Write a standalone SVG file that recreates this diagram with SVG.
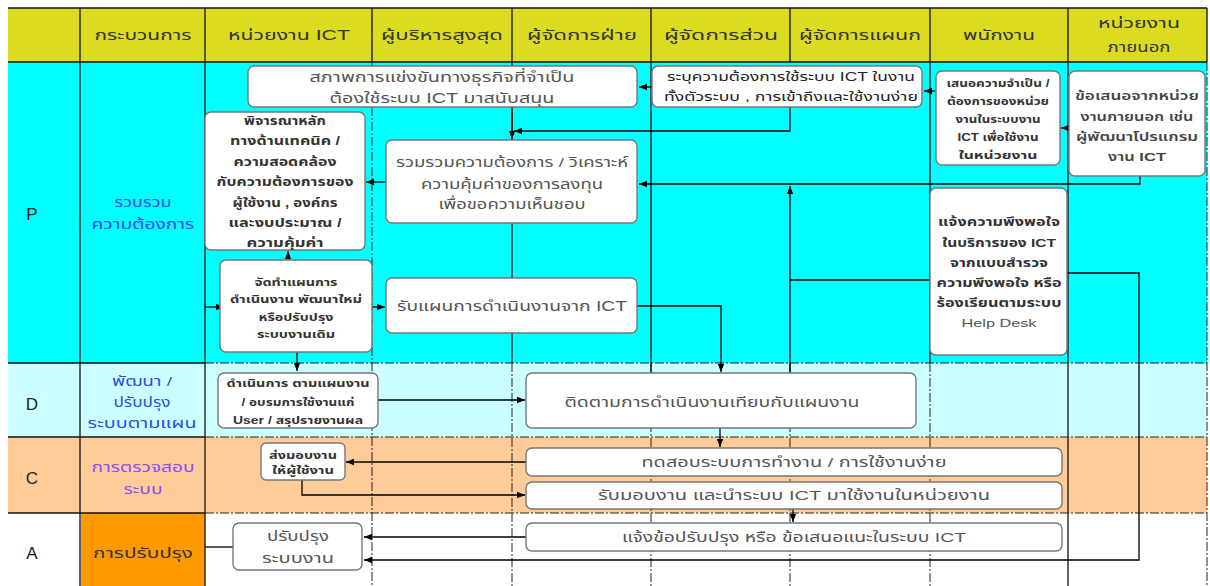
<svg xmlns="http://www.w3.org/2000/svg" width="1210" height="586" viewBox="0 0 1210 586">
<defs>
<marker id="ah" viewBox="0 0 10 10" refX="10" refY="5" markerWidth="8" markerHeight="8" markerUnits="userSpaceOnUse" orient="auto">
<path d="M0,1 L10,5 L0,9 z" fill="#000"/>
</marker>
<style>
text{font-family:"Liberation Sans","Noto Sans Thai","DejaVu Sans",sans-serif;text-anchor:middle;dominant-baseline:central}
.hd{font-size:14px;fill:#333}
.box{fill:#fff;stroke:#777;stroke-width:1.4}
.t{font-size:13.5px;fill:#555}
.b{font-size:11px;fill:#333;font-weight:bold}
.dd{stroke:#222;stroke-width:1;stroke-dasharray:9 2 2 2;fill:none}
.sl{stroke:#111;stroke-width:1.3;fill:none}
.c{stroke:#000;stroke-width:1.3;fill:none}
.ca{stroke:#000;stroke-width:1.3;fill:none;marker-end:url(#ah)}
.lt{font-size:17px;fill:#222}
.pl{font-size:13.5px;fill:#2a4cf0}
</style>
</defs>
<g id="lanes">
<rect x="8" y="8" width="1199" height="54" fill="#dbdb1f"/>
<rect x="8" y="62" width="1199" height="301" fill="#00ffff"/>
<rect x="8" y="363" width="1199" height="74" fill="#ccffff"/>
<rect x="8" y="437" width="1199" height="76" fill="#ffcc99"/>
<rect x="8" y="513" width="1199" height="73" fill="#ffffff"/>
<rect x="81" y="513" width="124" height="73" fill="#ff9900"/>
<line class="sl" x1="8" y1="8" x2="1207" y2="8"/>
<line class="sl" x1="8" y1="62" x2="1207" y2="62"/>
<line class="sl" x1="1207" y1="8" x2="1207" y2="62"/>
<line class="sl" x1="80" y1="8" x2="80" y2="586"/>
<line class="sl" x1="205" y1="8" x2="205" y2="586"/>
<line class="sl" x1="372" y1="8" x2="372" y2="62"/>
<line class="sl" x1="512" y1="8" x2="512" y2="62"/>
<line class="sl" x1="651" y1="8" x2="651" y2="62"/>
<line class="sl" x1="790" y1="8" x2="790" y2="62"/>
<line class="sl" x1="930" y1="8" x2="930" y2="62"/>
<line class="sl" x1="1068" y1="8" x2="1068" y2="62"/>
<line class="sl" x1="8" y1="363" x2="205" y2="363"/>
<line class="sl" x1="8" y1="437" x2="205" y2="437"/>
<line class="sl" x1="8" y1="513" x2="205" y2="513"/>
<line class="dd" x1="205" y1="363" x2="1207" y2="363"/>
<line class="dd" x1="205" y1="437" x2="1207" y2="437"/>
<line class="dd" x1="205" y1="513" x2="1207" y2="513"/>
<line class="dd" x1="372" y1="62" x2="372" y2="586"/>
<line class="dd" x1="512" y1="363" x2="512" y2="586"/>
<line class="dd" x1="651" y1="363" x2="651" y2="586"/>
<line class="dd" x1="790" y1="363" x2="790" y2="586"/>
<line class="dd" x1="930" y1="363" x2="930" y2="586"/>
<line class="dd" x1="1207" y1="62" x2="1207" y2="586"/>
<line class="sl" x1="512" y1="62" x2="512" y2="363"/>
<line class="sl" x1="651" y1="62" x2="651" y2="373"/>
<line class="sl" x1="930" y1="62" x2="930" y2="363"/>
<line class="sl" x1="1068" y1="62" x2="1068" y2="586"/>
</g>
<g id="header">
<text class="hd" x="143" y="35" textLength="97" lengthAdjust="spacingAndGlyphs">กระบวนการ</text>
<text class="hd" x="289" y="35" textLength="122" lengthAdjust="spacingAndGlyphs">หน่วยงาน ICT</text>
<text class="hd" x="442" y="35" textLength="122" lengthAdjust="spacingAndGlyphs">ผู้บริหารสูงสุด</text>
<text class="hd" x="582" y="35" textLength="110" lengthAdjust="spacingAndGlyphs">ผู้จัดการฝ่าย</text>
<text class="hd" x="721" y="35" textLength="114" lengthAdjust="spacingAndGlyphs">ผู้จัดการส่วน</text>
<text class="hd" x="860" y="35" textLength="122" lengthAdjust="spacingAndGlyphs">ผู้จัดการแผนก</text>
<text class="hd" x="999" y="35" textLength="72" lengthAdjust="spacingAndGlyphs">พนักงาน</text>
<text class="hd" x="1139" y="23" textLength="82" lengthAdjust="spacingAndGlyphs">หน่วยงาน</text>
<text class="hd" x="1139" y="47" textLength="63" lengthAdjust="spacingAndGlyphs">ภายนอก</text>
</g>
<g id="stages">
<text class="lt" x="32" y="214">P</text>
<text class="lt" x="32" y="404">D</text>
<text class="lt" x="32" y="478">C</text>
<text class="lt" x="32" y="553">A</text>
<text class="pl" x="143" y="202" textLength="57" lengthAdjust="spacingAndGlyphs">รวบรวม</text>
<text class="pl" x="143" y="224" textLength="103" lengthAdjust="spacingAndGlyphs">ความต้องการ</text>
<text class="pl" x="142" y="381" textLength="60" lengthAdjust="spacingAndGlyphs">พัฒนา /</text>
<text class="pl" x="142" y="402" textLength="57" lengthAdjust="spacingAndGlyphs">ปรับปรุง</text>
<text class="pl" x="142" y="423" textLength="109" lengthAdjust="spacingAndGlyphs">ระบบตามแผน</text>
<text class="pl" x="143" y="467" style="fill:#8a4cff" textLength="103" lengthAdjust="spacingAndGlyphs">การตรวจสอบ</text>
<text class="pl" x="143" y="489" style="fill:#8a4cff" textLength="39" lengthAdjust="spacingAndGlyphs">ระบบ</text>
<text x="143" y="553" style="font-size:14px;fill:#333" textLength="100" lengthAdjust="spacingAndGlyphs">การปรับปรุง</text>
</g>
<g id="connectors">
<path class="ca" d="M652,87 L639,87"/>
<path class="ca" d="M935,91 L924,91"/>
<path class="ca" d="M1068,128 L1061,128"/>
<path class="ca" d="M512,107 L512,139"/>
<path class="ca" d="M790,107 L790,131 L514,131"/>
<path class="ca" d="M1140,176 L1140,184 L639,184"/>
<path class="c" d="M930,280 L790,280"/>
<path class="ca" d="M790,373 L790,186"/>
<path class="ca" d="M386,182 L366,182"/>
<path class="ca" d="M288,260 L288,251"/>
<path class="ca" d="M205,307 L224,307"/>
<path class="ca" d="M372,307 L385,307"/>
<path class="ca" d="M637,306 L721,306 L721,372"/>
<path class="ca" d="M297,352 L297,371"/>
<path class="ca" d="M378,400 L525,400"/>
<path class="ca" d="M720,428 L720,447"/>
<path class="ca" d="M526,462 L346,462"/>
<path class="ca" d="M302,480 L302,495 L525,495"/>
<path class="ca" d="M793,508 L793,522"/>
<path class="ca" d="M526,537 L364,537"/>
<path class="ca" d="M1067,273 L1139,273 L1139,560 L364,560"/>
<path class="c" d="M205,547 L233,547"/>
</g>
<g id="nodeA">
<rect class="box" x="248" y="66" width="389" height="41" rx="6"/>
<text class="t" x="442" y="77" style="font-size:14px" textLength="265" lengthAdjust="spacingAndGlyphs">สภาพการแข่งขันทางธุรกิจที่จำเป็น</text>
<text class="t" x="442" y="98" style="font-size:14px" textLength="225" lengthAdjust="spacingAndGlyphs">ต้องใช้ระบบ ICT มาสนับสนุน</text>
</g>
<g id="nodeB">
<rect class="box" x="652" y="66" width="270" height="41" rx="6"/>
<text class="t" x="791" y="77" style="fill:#222;font-size:12.5px" textLength="248" lengthAdjust="spacingAndGlyphs">ระบุความต้องการใช้ระบบ ICT ในงาน</text>
<text class="t" x="791" y="97" style="fill:#222;font-size:12.5px" textLength="254" lengthAdjust="spacingAndGlyphs">ทั้งตัวระบบ , การเข้าถึงและใช้งานง่าย</text>
</g>
<g id="nodeC">
<rect class="box" x="936" y="71" width="124" height="94" rx="6"/>
<text class="b" x="998" y="83" style="font-size:10.5px" textLength="103" lengthAdjust="spacingAndGlyphs">เสนอความจำเป็น /</text>
<text class="b" x="998" y="101" style="font-size:10.5px" textLength="102" lengthAdjust="spacingAndGlyphs">ต้องการของหน่วย</text>
<text class="b" x="998" y="119" style="font-size:10.5px" textLength="85" lengthAdjust="spacingAndGlyphs">งานในระบบงาน</text>
<text class="b" x="998" y="137" style="font-size:10.5px" textLength="81" lengthAdjust="spacingAndGlyphs">ICT เพื่อใช้งาน</text>
<text class="b" x="998" y="155" style="font-size:10.5px" textLength="79" lengthAdjust="spacingAndGlyphs">ในหน่วยงาน</text>
</g>
<g id="nodeD">
<rect class="box" x="1069" y="71" width="136" height="105" rx="6"/>
<text class="b" x="1137" y="96" style="font-size:11.5px;font-weight:600;fill:#444" textLength="124" lengthAdjust="spacingAndGlyphs">ข้อเสนอจากหน่วย</text>
<text class="b" x="1137" y="117" style="font-size:11.5px;font-weight:600;fill:#444" textLength="113" lengthAdjust="spacingAndGlyphs">งานภายนอก เช่น</text>
<text class="b" x="1137" y="137" style="font-size:11.5px;font-weight:600;fill:#444" textLength="122" lengthAdjust="spacingAndGlyphs">ผู้พัฒนาโปรแกรม</text>
<text class="b" x="1137" y="157" style="font-size:11.5px;font-weight:600;fill:#444" textLength="58" lengthAdjust="spacingAndGlyphs">งาน ICT</text>
</g>
<g id="nodeE">
<rect class="box" x="205" y="112" width="160" height="138" rx="6"/>
<text class="b" x="285" y="121" style="font-size:12px" textLength="82" lengthAdjust="spacingAndGlyphs">พิจารณาหลัก</text>
<text class="b" x="285" y="141" style="font-size:12px" textLength="110" lengthAdjust="spacingAndGlyphs">ทางด้านเทคนิค /</text>
<text class="b" x="285" y="162" style="font-size:12px" textLength="103" lengthAdjust="spacingAndGlyphs">ความสอดคล้อง</text>
<text class="b" x="285" y="182" style="font-size:12px" textLength="137" lengthAdjust="spacingAndGlyphs">กับความต้องการของ</text>
<text class="b" x="285" y="203" style="font-size:12px" textLength="105" lengthAdjust="spacingAndGlyphs">ผู้ใช้งาน , องค์กร</text>
<text class="b" x="285" y="223" style="font-size:12px" textLength="113" lengthAdjust="spacingAndGlyphs">และงบประมาณ /</text>
<text class="b" x="285" y="243" style="font-size:12px" textLength="77" lengthAdjust="spacingAndGlyphs">ความคุ้มค่า</text>
</g>
<g id="nodeF">
<rect class="box" x="386" y="140" width="251" height="83" rx="6"/>
<text class="t" x="512" y="162" textLength="232" lengthAdjust="spacingAndGlyphs">รวมรวมความต้องการ / วิเคราะห์</text>
<text class="t" x="512" y="184" textLength="182" lengthAdjust="spacingAndGlyphs">ความคุ้มค่าของการลงทุน</text>
<text class="t" x="512" y="204" textLength="147" lengthAdjust="spacingAndGlyphs">เพื่อขอความเห็นชอบ</text>
</g>
<g id="nodeG">
<rect class="box" x="930" y="188" width="137" height="167" rx="6"/>
<text class="b" x="999" y="222" style="font-size:11.5px" textLength="122" lengthAdjust="spacingAndGlyphs">แจ้งความพึงพอใจ</text>
<text class="b" x="999" y="243" style="font-size:11.5px" textLength="114" lengthAdjust="spacingAndGlyphs">ในบริการของ ICT</text>
<text class="b" x="999" y="263" style="font-size:11.5px" textLength="98" lengthAdjust="spacingAndGlyphs">จากแบบสำรวจ</text>
<text class="b" x="999" y="283" style="font-size:11.5px" textLength="125" lengthAdjust="spacingAndGlyphs">ความพึงพอใจ หรือ</text>
<text class="b" x="999" y="303" style="font-size:11.5px" textLength="125" lengthAdjust="spacingAndGlyphs">ร้องเรียนตามระบบ</text>
<text x="999" y="323" style="font-size:11.5px;fill:#555" textLength="75" lengthAdjust="spacingAndGlyphs">Help Desk</text>
</g>
<g id="nodeH">
<rect class="box" x="220" y="260" width="152" height="92" rx="6"/>
<text class="b" x="296" y="282" textLength="83" lengthAdjust="spacingAndGlyphs">จัดทำแผนการ</text>
<text class="b" x="296" y="299" textLength="132" lengthAdjust="spacingAndGlyphs">ดำเนินงาน พัฒนาใหม่</text>
<text class="b" x="296" y="317" textLength="75" lengthAdjust="spacingAndGlyphs">หรือปรับปรุง</text>
<text class="b" x="296" y="334" textLength="78" lengthAdjust="spacingAndGlyphs">ระบบงานเดิม</text>
</g>
<g id="nodeI">
<rect class="box" x="386" y="278" width="251" height="55" rx="6"/>
<text class="t" x="512" y="306" style="font-size:14.5px" textLength="230" lengthAdjust="spacingAndGlyphs">รับแผนการดำเนินงานจาก ICT</text>
</g>
<g id="nodeJ">
<rect class="box" x="218" y="373" width="160" height="55" rx="6"/>
<text class="b" x="298" y="383" textLength="143" lengthAdjust="spacingAndGlyphs">ดำเนินการ ตามแผนงาน</text>
<text class="b" x="298" y="402" textLength="113" lengthAdjust="spacingAndGlyphs">/ อบรมการใช้งานแก่</text>
<text class="b" x="298" y="420" textLength="130" lengthAdjust="spacingAndGlyphs">User / สรุปรายงานผล</text>
</g>
<g id="nodeK">
<rect class="box" x="526" y="373" width="390" height="55" rx="6"/>
<text class="t" x="712" y="402" style="font-size:14px" textLength="295" lengthAdjust="spacingAndGlyphs">ติดตามการดำเนินงานเทียบกับแผนงาน</text>
</g>
<g id="nodeL">
<rect class="box" x="261" y="443" width="84" height="37" rx="5"/>
<text class="b" x="303" y="455" textLength="68" lengthAdjust="spacingAndGlyphs">ส่งมอบงาน</text>
<text class="b" x="303" y="470" textLength="62" lengthAdjust="spacingAndGlyphs">ให้ผู้ใช้งาน</text>
</g>
<g id="nodeM">
<rect class="box" x="526" y="448" width="536" height="28" rx="6"/>
<text class="t" x="794" y="462" textLength="305" lengthAdjust="spacingAndGlyphs">ทดสอบระบบการทำงาน / การใช้งานง่าย</text>
</g>
<g id="nodeN">
<rect class="box" x="526" y="482" width="536" height="27" rx="6"/>
<text class="t" x="794" y="495" textLength="392" lengthAdjust="spacingAndGlyphs">รับมอบงาน และนำระบบ ICT มาใช้งานในหน่วยงาน</text>
</g>
<g id="nodeO">
<rect class="box" x="233" y="523" width="129" height="47" rx="6"/>
<text class="t" x="298" y="536" textLength="62" lengthAdjust="spacingAndGlyphs">ปรับปรุง</text>
<text class="t" x="298" y="558" textLength="72" lengthAdjust="spacingAndGlyphs">ระบบงาน</text>
</g>
<g id="nodeP">
<rect class="box" x="526" y="523" width="536" height="28" rx="6"/>
<text class="t" x="794" y="537" textLength="344" lengthAdjust="spacingAndGlyphs">แจ้งข้อปรับปรุง หรือ ข้อเสนอแนะในระบบ ICT</text>
</g>
</svg>
